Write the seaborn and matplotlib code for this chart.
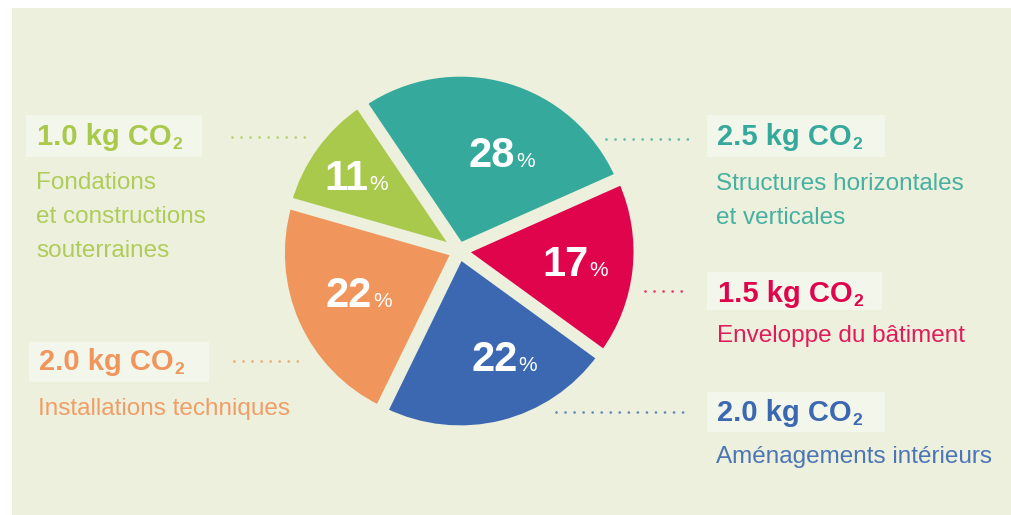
import matplotlib
matplotlib.use("Agg")
import numpy as np
import matplotlib.pyplot as plt
import seaborn as sns
from matplotlib.patches import Rectangle

# Dados (ordem da pizza, sentido anti-horário a partir da direita)
categorias = [
    "Structures horizontales\net verticales",
    "Fondations\net constructions\nsouterraines",
    "Installations techniques",
    "Aménagements intérieurs",
    "Enveloppe du bâtiment",
]
emissoes_kg = [2.5, 1.0, 2.0, 2.0, 1.5]
cores = ["#35a99b", "#a9c94d", "#f0955b", "#3b68b1", "#e0044d"]

# Configuração visual
sns.set_theme(style="white")
plt.rcParams["font.family"] = ["Liberation Sans", "DejaVu Sans"]
plt.rcParams["lines.scale_dashes"] = False

W, H = 1011, 515
fundo = "#ecf0dc"
caixa = "#f3f6ea"

fig = plt.figure(figsize=(W / 100, H / 100), dpi=100, facecolor="white")
ax = fig.add_axes([0, 0, 1, 1])


def py(y):
    # coordenada y em pixels (de cima) -> y do eixo
    return H - y


ax.add_patch(Rectangle((12, 0), W - 12, H - 8, color=fundo, zorder=0, lw=0))

centro = (459, py(251))
raio = 173
fatias, _ = ax.pie(emissoes_kg, colors=cores, startangle=24, counterclock=True,
                   center=centro, radius=raio, explode=[5] * len(emissoes_kg),
                   wedgeprops=dict(edgecolor=fundo, linewidth=5))

ax.set_xlim(0, W)
ax.set_ylim(0, H)
ax.set_aspect("equal")
ax.axis("off")

# Percentuais dentro das fatias
total = sum(emissoes_kg)
dist_rotulo = [0.62, 0.75, 0.63, 0.66, 0.67]
ajuste_ang = [-7, 0, -2, 9, 1]
for fatia, v, d, da in zip(fatias, emissoes_kg, dist_rotulo, ajuste_ang):
    ang = np.deg2rad((fatia.theta1 + fatia.theta2) / 2 + da)
    cx, cy = centro
    x = cx + d * raio * np.cos(ang)
    y = cy + d * raio * np.sin(ang)
    ax.text(x + 14, y - 15, f"{round(v / total * 100)}", color="white",
            fontsize=30, fontweight="bold", ha="right", va="baseline", zorder=5)
    ax.text(x + 15, y - 15, "%", color="white", fontsize=15,
            ha="left", va="baseline", zorder=5)

# Legendas laterais: x texto, y kg, y descrição, pontilhado (x0, x1, y), caixa (x0, y0, x1, y1)
layout = [
    (717, 137, 184, (606, 690, 139), (707, 115, 885, 157)),
    (37, 137, 183, (232, 313, 137), (26, 115, 202, 157)),
    (39, 362, 409, (234, 304, 361), (29, 342, 209, 382)),
    (717, 413, 457, (556, 690, 412), (707, 392, 885, 432)),
    (718, 294, 336, (645, 690, 291), (707, 272, 882, 310)),
]

for nome, v, cor, (tx, ykg, ydesc, pont, cx) in zip(categorias, emissoes_kg, cores, layout):
    x0, y0, x1, y1 = cx
    ax.add_patch(Rectangle((x0, py(y1)), x1 - x0, y1 - y0, color=caixa, lw=0, zorder=2))
    t = ax.text(tx, py(ykg), f"{v:.1f} kg CO", color=cor, fontsize=21,
                fontweight="bold", ha="left", va="center", zorder=3)
    ax.annotate("2", xy=(1, 0), xycoords=t, xytext=(0.5, -1), textcoords="offset points",
                color=cor, fontsize=12.5, fontweight="bold", ha="left", va="bottom", zorder=3)
    for i, linha in enumerate(nome.split("\n")):
        ax.text(tx - 1, py(ydesc + i * 34), linha, color=cor, fontsize=17.5,
                ha="left", va="center", alpha=0.9, zorder=3)
    px0, px1, pyy = pont
    ax.plot([px0, px1], [py(pyy), py(pyy)], color=cor, alpha=0.75, lw=2,
            linestyle=(0, (0.01, 6.5)), dash_capstyle="round", zorder=3)

fig.savefig("out.png", dpi=100, facecolor="white")
